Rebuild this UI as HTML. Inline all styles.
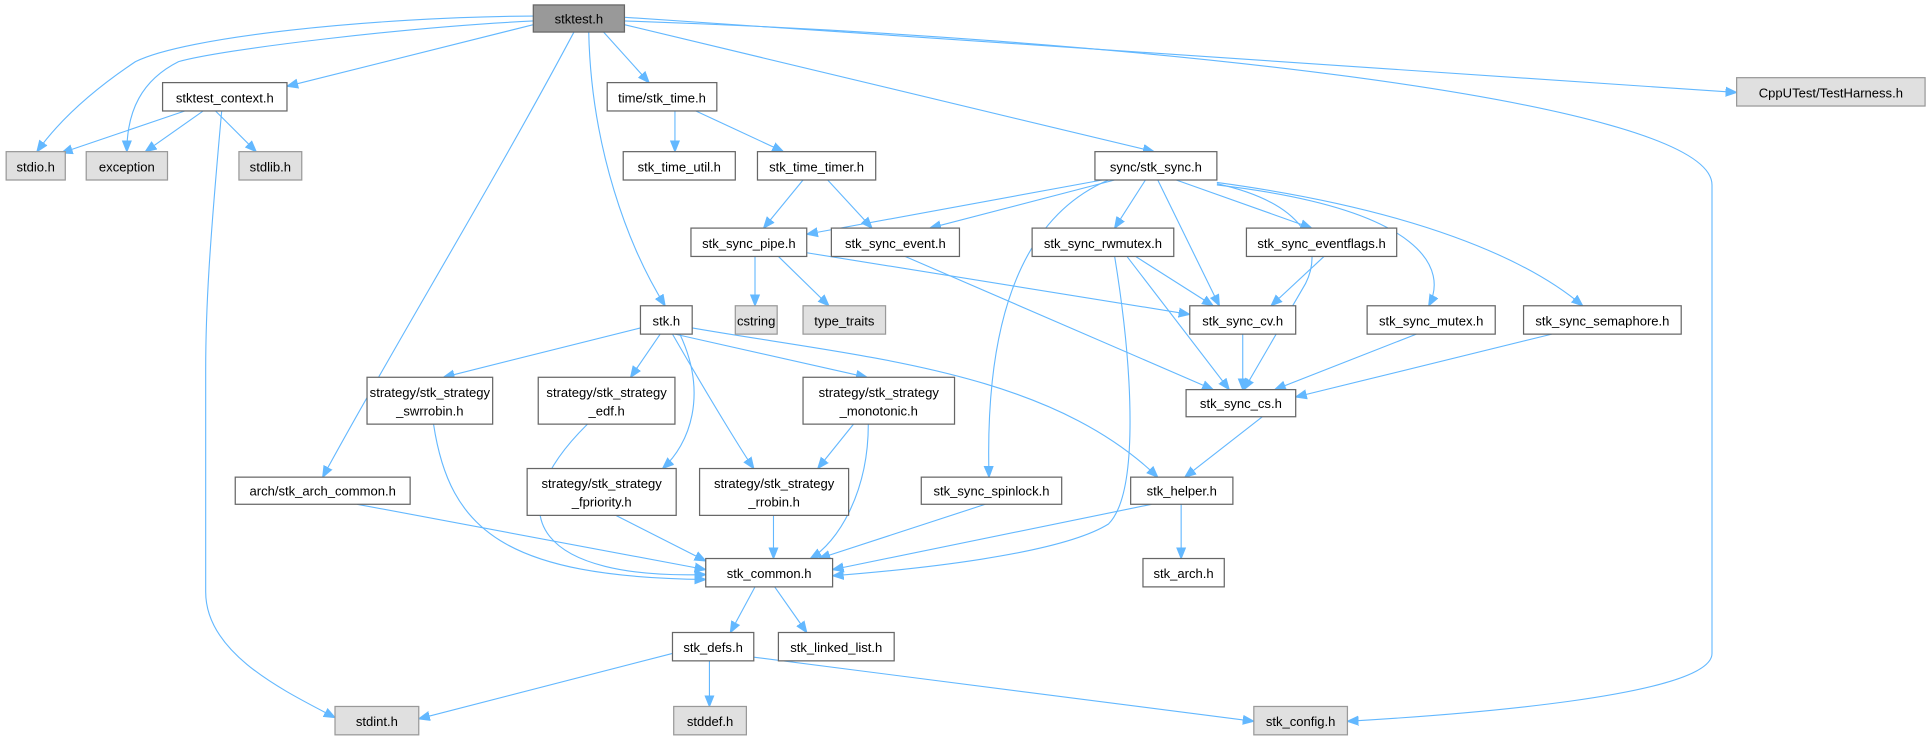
<!DOCTYPE html>
<html><head><meta charset="utf-8"><style>
html,body{margin:0;padding:0;background:#fff;width:1930px;height:741px;overflow:hidden}
svg{display:block}
text{font-family:"Liberation Sans",sans-serif;font-size:10.6px;fill:#000;text-anchor:middle}
.e{fill:none;stroke:#63b8ff;stroke-width:0.9}
.n rect{fill:#fff;stroke:#666;stroke-width:1}
.g rect{fill:#e0e0e0;stroke:#999;stroke-width:1}
.r rect{fill:#999;stroke:#666;stroke-width:1}
</style></head><body>
<svg width="1930" height="741" viewBox="0 0 1567 601" preserveAspectRatio="none" xmlns="http://www.w3.org/2000/svg">
<defs><marker id="a" viewBox="0 0 10 10" refX="10" refY="5" markerWidth="9" markerHeight="9" markerUnits="userSpaceOnUse" orient="auto"><path d="M0,1 L10,5 L0,9 z" fill="#63b8ff" stroke="#63b8ff"/></marker></defs>
<g marker-end="url(#a)">
<path class="e" d="M433,13 C300,14 150,30 110,50 C80,70 50,95 30,123"/>
<path class="e" d="M433,17 C330,22 180,40 145,50 C115,65 103,90 103,123"/>
<path class="e" d="M433,20 L233,70"/>
<path class="e" d="M466,26 C400,150 320,280 262,387"/>
<path class="e" d="M478,26 C480,120 510,200 540,248"/>
<path class="e" d="M490,26 L527,67"/>
<path class="e" d="M507,20 L937,123"/>
<path class="e" d="M507,14 L1410,75"/>
<path class="e" d="M507,17 C900,30 1390,80 1390,150 L1390,530 C1390,565 1180,580 1094,585"/>
<path class="e" d="M150,90 L50,124"/>
<path class="e" d="M165,90 L118,123"/>
<path class="e" d="M175,90 L208,123"/>
<path class="e" d="M180,90 C170,200 167,250 167,300 L167,480 C167,530 230,560 272,582"/>
<path class="e" d="M548,90 L548,123"/>
<path class="e" d="M565,90 L636,123"/>
<path class="e" d="M652,146 L620,185"/>
<path class="e" d="M672,146 L708,185"/>
<path class="e" d="M895,146 L655,190"/>
<path class="e" d="M905,146 L755,185"/>
<path class="e" d="M900,146 C820,180 800,280 803,387"/>
<path class="e" d="M930,146 L905,185"/>
<path class="e" d="M940,146 L990,248"/>
<path class="e" d="M955,146 L1065,185"/>
<path class="e" d="M988,149 C1060,165 1075,200 1060,230 L1010,316"/>
<path class="e" d="M988,150 C1160,170 1175,220 1160,248"/>
<path class="e" d="M988,148 C1150,170 1240,210 1285,248"/>
<path class="e" d="M613,208 L613,248"/>
<path class="e" d="M632,208 L673,248"/>
<path class="e" d="M655,205 L966,255"/>
<path class="e" d="M735,208 L985,316"/>
<path class="e" d="M922,208 L985,248"/>
<path class="e" d="M915,208 L998,316"/>
<path class="e" d="M905,208 C920,300 925,400 900,425 C860,450 740,462 676,467"/>
<path class="e" d="M1075,208 L1032,248"/>
<path class="e" d="M1009,271 L1009,316"/>
<path class="e" d="M1150,271 L1035,316"/>
<path class="e" d="M1260,271 L1052,322"/>
<path class="e" d="M1025,338 L962,387"/>
<path class="e" d="M520,266 L360,306"/>
<path class="e" d="M536,271 L512,306"/>
<path class="e" d="M548,271 L704,306"/>
<path class="e" d="M552,271 C575,320 560,360 538,380"/>
<path class="e" d="M546,271 C580,330 605,370 612,380"/>
<path class="e" d="M562,266 C700,290 850,300 940,387"/>
<path class="e" d="M352,344 C365,430 410,468 573,470"/>
<path class="e" d="M477,344 C400,420 440,470 573,466"/>
<path class="e" d="M290,409 L573,462"/>
<path class="e" d="M500,418 L573,455"/>
<path class="e" d="M628,418 L628,453"/>
<path class="e" d="M693,344 L664,380"/>
<path class="e" d="M705,344 C705,400 680,440 658,453"/>
<path class="e" d="M800,409 L665,453"/>
<path class="e" d="M935,409 L676,462"/>
<path class="e" d="M959,409 L959,453"/>
<path class="e" d="M613,476 L593,513"/>
<path class="e" d="M629,476 L655,513"/>
<path class="e" d="M546,530 L340,583"/>
<path class="e" d="M576,536 L576,573"/>
<path class="e" d="M612,533 L1018,585"/>
</g>
<g class="r"><rect x="433" y="4" width="74" height="22"/><text x="470" y="19">stktest.h</text></g>
<g class="g"><rect x="5" y="123" width="48" height="23"/><text x="29" y="139">stdio.h</text></g>
<g class="g"><rect x="70" y="123" width="66" height="23"/><text x="103" y="139">exception</text></g>
<g class="n"><rect x="132" y="67" width="101" height="23"/><text x="182.5" y="83">stktest_context.h</text></g>
<g class="g"><rect x="194" y="123" width="51" height="23"/><text x="219.5" y="139">stdlib.h</text></g>
<g class="n"><rect x="493" y="67" width="89" height="23"/><text x="537.5" y="83">time/stk_time.h</text></g>
<g class="n"><rect x="506" y="123" width="91" height="23"/><text x="551.5" y="139">stk_time_util.h</text></g>
<g class="n"><rect x="615" y="123" width="96" height="23"/><text x="663" y="139">stk_time_timer.h</text></g>
<g class="n"><rect x="889" y="123" width="99" height="23"/><text x="938.5" y="139">sync/stk_sync.h</text></g>
<g class="g"><rect x="1410" y="63" width="153" height="23"/><text x="1486.5" y="79">CppUTest/TestHarness.h</text></g>
<g class="n"><rect x="561" y="185" width="94" height="23"/><text x="608" y="201">stk_sync_pipe.h</text></g>
<g class="n"><rect x="675" y="185" width="104" height="23"/><text x="727" y="201">stk_sync_event.h</text></g>
<g class="n"><rect x="838" y="185" width="115" height="23"/><text x="895.5" y="201">stk_sync_rwmutex.h</text></g>
<g class="n"><rect x="1012" y="185" width="122" height="23"/><text x="1073" y="201">stk_sync_eventflags.h</text></g>
<g class="n"><rect x="520" y="248" width="42" height="23"/><text x="541" y="264">stk.h</text></g>
<g class="g"><rect x="597" y="248" width="34" height="23"/><text x="614" y="264">cstring</text></g>
<g class="g"><rect x="652" y="248" width="67" height="23"/><text x="685.5" y="264">type_traits</text></g>
<g class="n"><rect x="966" y="248" width="86" height="23"/><text x="1009" y="264">stk_sync_cv.h</text></g>
<g class="n"><rect x="1110" y="248" width="104" height="23"/><text x="1162" y="264">stk_sync_mutex.h</text></g>
<g class="n"><rect x="1237" y="248" width="128" height="23"/><text x="1301" y="264">stk_sync_semaphore.h</text></g>
<g class="n"><rect x="298" y="306" width="102" height="38"/><text x="349" y="322">strategy/stk_strategy</text><text x="349" y="337">_swrrobin.h</text></g>
<g class="n"><rect x="437" y="306" width="111" height="38"/><text x="492.5" y="322">strategy/stk_strategy</text><text x="492.5" y="337">_edf.h</text></g>
<g class="n"><rect x="652" y="306" width="123" height="38"/><text x="713.5" y="322">strategy/stk_strategy</text><text x="713.5" y="337">_monotonic.h</text></g>
<g class="n"><rect x="963" y="316" width="89" height="22"/><text x="1007.5" y="331">stk_sync_cs.h</text></g>
<g class="n"><rect x="191" y="387" width="142" height="22"/><text x="262" y="402">arch/stk_arch_common.h</text></g>
<g class="n"><rect x="428" y="380" width="121" height="38"/><text x="488.5" y="396">strategy/stk_strategy</text><text x="488.5" y="411">_fpriority.h</text></g>
<g class="n"><rect x="568" y="380" width="121" height="38"/><text x="628.5" y="396">strategy/stk_strategy</text><text x="628.5" y="411">_rrobin.h</text></g>
<g class="n"><rect x="748" y="387" width="114" height="22"/><text x="805" y="402">stk_sync_spinlock.h</text></g>
<g class="n"><rect x="918" y="387" width="83" height="22"/><text x="959.5" y="402">stk_helper.h</text></g>
<g class="n"><rect x="573" y="453" width="103" height="23"/><text x="624.5" y="469">stk_common.h</text></g>
<g class="n"><rect x="928" y="453" width="66" height="23"/><text x="961" y="469">stk_arch.h</text></g>
<g class="n"><rect x="546" y="513" width="66" height="23"/><text x="579" y="529">stk_defs.h</text></g>
<g class="n"><rect x="632" y="513" width="94" height="23"/><text x="679" y="529">stk_linked_list.h</text></g>
<g class="g"><rect x="272" y="573" width="68" height="23"/><text x="306" y="589">stdint.h</text></g>
<g class="g"><rect x="547" y="573" width="59" height="23"/><text x="576.5" y="589">stddef.h</text></g>
<g class="g"><rect x="1018" y="573" width="76" height="23"/><text x="1056" y="589">stk_config.h</text></g>
</svg>
</body></html>
